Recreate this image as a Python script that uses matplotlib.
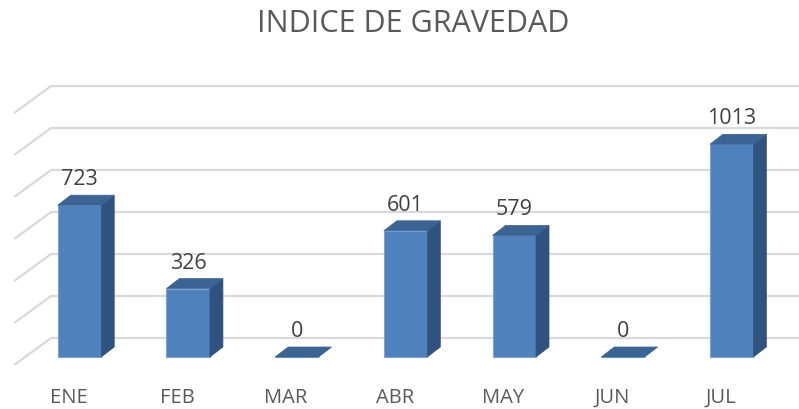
import matplotlib
matplotlib.use("Agg")
import matplotlib.pyplot as plt
from matplotlib.patches import Polygon
import numpy as np

categories = ["ENE", "FEB", "MAR", "ABR", "MAY", "JUN", "JUL"]
values = [723, 326, 0, 601, 579, 0, 1013]
grid_values = [0, 200, 400, 600, 800, 1000, 1200]
title = "INDICE DE GRAVEDAD"

W, H, DPI = 799, 409, 100
fig = plt.figure(figsize=(W / DPI, H / DPI), dpi=DPI)
plt.rcParams['font.family'] = ['Open Sans', 'DejaVu Sans']

# axes frame (front plane of bars)
px_left, px_right = 25.15, 786.0
px_base, px_top = 357.0, 105.0
ax = fig.add_axes([px_left / W, (H - px_base) / H,
                   (px_right - px_left) / W, (px_base - px_top) / H])
ax.set_xlim(-0.5, 6.5)
ax.set_ylim(0, 1200)
ax.axis('off')

# pixel -> data conversions for oblique depth
xpp = 7.0 / (px_right - px_left)   # categories per pixel
ypp = 1200.0 / (px_base - px_top)  # value units per pixel

def off(dx_px, dy_px):
    return dx_px * xpp, -dy_px * ypp

fdx, fdy = off(-11, 8)     # floor front edge
bdx, bdy = off(26, -19)    # back wall
ddx, ddy = off(13, -10)    # bar depth

grid_color = "#D9D9D9"
for v in grid_values:
    xs = [-0.5 + fdx, -0.5 + bdx, 6.5 + bdx + 1.0]
    ys = [v + fdy, v + bdy, v + bdy]
    ax.plot(xs, ys, color=grid_color, lw=1.6, clip_on=False, zorder=1,
            solid_capstyle='butt')

front_c = "#4F81BD"
side_c = "#30527F"
top_c = "#3B6495"
edge_c = "#7FA3D3"
w = 0.4
x = np.arange(len(categories))
ax.bar(x, values, width=w, color=front_c, edgecolor=edge_c, linewidth=0.8,
       zorder=3, clip_on=False)
for xi, v in zip(x, values):
    r = xi + w / 2
    l = xi - w / 2
    if v > 0:
        side = Polygon([(r, 0), (r + ddx, ddy), (r + ddx, v + ddy), (r, v)],
                       closed=True, facecolor=side_c, edgecolor=side_c,
                       lw=0.5, zorder=3, clip_on=False)
        ax.add_patch(side)
    top = Polygon([(l, v), (r, v), (r + ddx, v + ddy), (l + ddx, v + ddy)],
                  closed=True, facecolor=top_c, edgecolor=top_c, lw=0.5,
                  zorder=4, clip_on=False)
    ax.add_patch(top)
    ax.annotate(str(v), xy=(xi, v + ddy), xytext=(0, 5),
                textcoords='offset pixels', ha='center', va='bottom',
                fontsize=15.5, color="#404040", zorder=5,
                annotation_clip=False)

# category labels at floor front
for xi, c in zip(x, categories):
    ax.annotate(c, xy=(xi + fdx, 0), xytext=(0, -41),
                textcoords='offset pixels', ha='center', va='center',
                fontsize=14.5, color="#595959", annotation_clip=False)

fig.text(413 / W, 1 - 9 / H, title, ha='center', va='top',
         fontsize=22, color="#595959")

fig.savefig("out.png", dpi=DPI)
